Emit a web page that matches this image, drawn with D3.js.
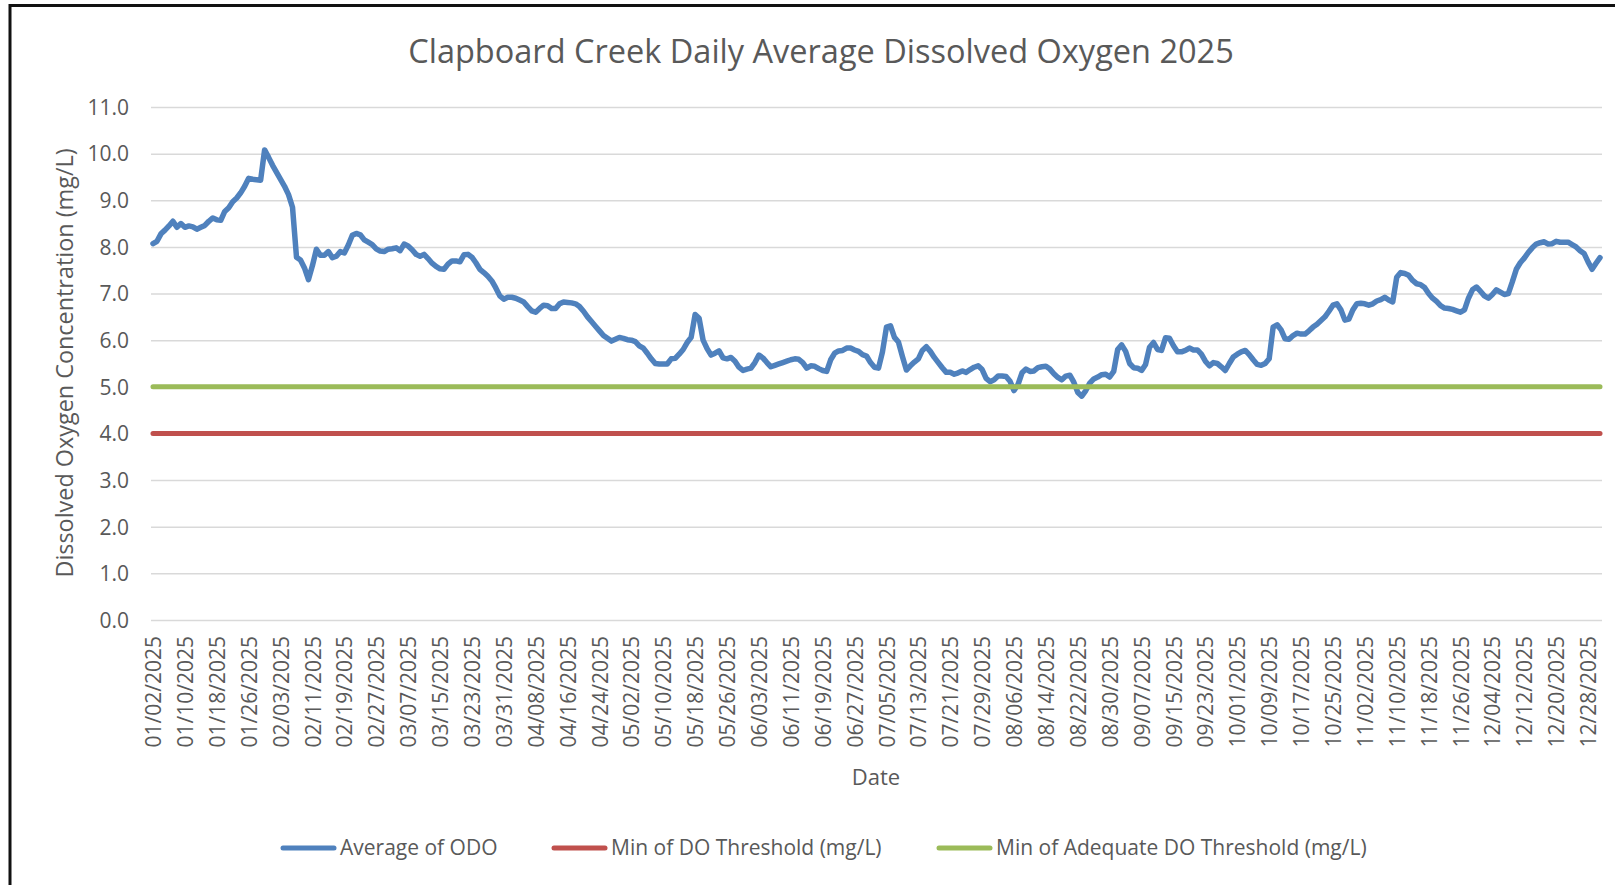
<!DOCTYPE html>
<html>
<head>
<meta charset="utf-8">
<script src="https://cdn.jsdelivr.net/npm/d3@7"></script>
<style>
  html, body { margin: 0; padding: 0; background: #ffffff; }
  svg { display: block; }
  text { font-family: "Open Sans", "Noto Sans", sans-serif; fill: #595959; }
</style>
</head>
<body>
<svg id="chart" width="1615" height="885"></svg>
<script>
// ---------------- DATA ----------------
const chartTitle = "Clapboard Creek Daily Average Dissolved Oxygen 2025";
const yAxisTitle = "Dissolved Oxygen Concentration (mg/L)";
const xAxisTitle = "Date";
const seriesNames = ["Average of ODO", "Min of DO Threshold (mg/L)", "Min of Adequate DO Threshold (mg/L)"];

// categories: every day from 01/02/2025 to 12/31/2025
const firstDay = new Date(2025, 0, 2);
const endDayExclusive = new Date(2026, 0, 1);
const categories = d3.timeDay.range(firstDay, endDayExclusive).map(d3.timeFormat("%m/%d/%Y"));

// daily average ODO (mg/L), one value per category
const odoValues = [
  8.07, 8.12, 8.28, 8.36, 8.45, 8.55, 8.42, 8.50, 8.42, 8.45,
  8.43, 8.38, 8.42, 8.46, 8.55, 8.62, 8.58, 8.57, 8.76, 8.84,
  8.97, 9.05, 9.16, 9.30, 9.47, 9.45, 9.44, 9.43, 10.08, 9.92,
  9.75, 9.60, 9.45, 9.30, 9.12, 8.85, 7.78, 7.72, 7.55, 7.30,
  7.60, 7.95, 7.82, 7.82, 7.90, 7.77, 7.80, 7.90, 7.87, 8.04,
  8.25, 8.29, 8.26, 8.15, 8.10, 8.05, 7.96, 7.91, 7.90, 7.95,
  7.96, 7.98, 7.92, 8.06, 8.02, 7.94, 7.84, 7.80, 7.84, 7.75,
  7.65, 7.58, 7.53, 7.52, 7.63, 7.70, 7.70, 7.68, 7.83, 7.84,
  7.78, 7.66, 7.52, 7.45, 7.37, 7.27, 7.12, 6.95, 6.88, 6.92,
  6.92, 6.90, 6.86, 6.82, 6.72, 6.63, 6.60, 6.68, 6.75, 6.74,
  6.68, 6.68, 6.78, 6.82, 6.81, 6.80, 6.78, 6.72, 6.62, 6.50,
  6.40, 6.30, 6.20, 6.10, 6.04, 5.98, 6.02, 6.06, 6.04, 6.01,
  6.00, 5.97, 5.88, 5.83, 5.72, 5.60, 5.50, 5.49, 5.49, 5.49,
  5.60, 5.61, 5.70, 5.80, 5.95, 6.06, 6.55, 6.47, 6.00, 5.82,
  5.68, 5.72, 5.77, 5.62, 5.60, 5.63, 5.55, 5.42, 5.35, 5.38,
  5.40, 5.52, 5.68, 5.62, 5.52, 5.43, 5.46, 5.49, 5.52, 5.55,
  5.58, 5.60, 5.59, 5.52, 5.40, 5.45, 5.44, 5.39, 5.35, 5.33,
  5.58, 5.72, 5.77, 5.78, 5.83, 5.83, 5.79, 5.76, 5.69, 5.66,
  5.52, 5.42, 5.40, 5.75, 6.28, 6.31, 6.06, 5.96, 5.65, 5.36,
  5.45, 5.53, 5.60, 5.78, 5.86, 5.76, 5.63, 5.52, 5.41, 5.31,
  5.31, 5.27, 5.30, 5.34, 5.31, 5.37, 5.42, 5.45, 5.37, 5.18,
  5.11, 5.15, 5.23, 5.23, 5.22, 5.12, 4.92, 5.05, 5.30, 5.38,
  5.33, 5.34, 5.41, 5.43, 5.44, 5.38, 5.28, 5.20, 5.15, 5.23,
  5.25, 5.10, 4.88, 4.80, 4.92, 5.08, 5.17, 5.21, 5.26, 5.27,
  5.21, 5.33, 5.80, 5.90, 5.76, 5.50, 5.41, 5.40, 5.35, 5.48,
  5.85, 5.95, 5.80, 5.78, 6.05, 6.04, 5.88, 5.75, 5.75, 5.78,
  5.83, 5.79, 5.79, 5.70, 5.55, 5.45, 5.52, 5.50, 5.43, 5.35,
  5.50, 5.64, 5.70, 5.75, 5.78, 5.69, 5.58, 5.48, 5.46, 5.50,
  5.60, 6.28, 6.33, 6.22, 6.03, 6.02, 6.10, 6.15, 6.13, 6.13,
  6.20, 6.28, 6.34, 6.42, 6.50, 6.62, 6.75, 6.78, 6.65, 6.43,
  6.45, 6.65, 6.78, 6.79, 6.78, 6.75, 6.78, 6.84, 6.87, 6.92,
  6.86, 6.82, 7.35, 7.45, 7.43, 7.39, 7.28, 7.21, 7.19, 7.13,
  7.00, 6.90, 6.83, 6.74, 6.69, 6.68, 6.66, 6.63, 6.60, 6.65,
  6.90, 7.08, 7.14, 7.05, 6.95, 6.90, 6.98, 7.08, 7.03, 6.98,
  7.00, 7.25, 7.52, 7.66, 7.76, 7.88, 7.98, 8.06, 8.09, 8.11,
  8.06, 8.07, 8.12, 8.10, 8.10, 8.10, 8.05, 8.00, 7.92, 7.86,
  7.68, 7.52, 7.65, 7.77
];

// threshold series (constant every day)
const minDOThreshold = 4.0;
const minAdequateDOThreshold = 5.0;

// axis ticks
const yTicks = [0, 1, 2, 3, 4, 5, 6, 7, 8, 9, 10, 11];
const xTickLabels = [
  "01/02/2025","01/10/2025","01/18/2025","01/26/2025","02/03/2025","02/11/2025",
  "02/19/2025","02/27/2025","03/07/2025","03/15/2025","03/23/2025","03/31/2025",
  "04/08/2025","04/16/2025","04/24/2025","05/02/2025","05/10/2025","05/18/2025",
  "05/26/2025","06/03/2025","06/11/2025","06/19/2025","06/27/2025","07/05/2025",
  "07/13/2025","07/21/2025","07/29/2025","08/06/2025","08/14/2025","08/22/2025",
  "08/30/2025","09/07/2025","09/15/2025","09/23/2025","10/01/2025","10/09/2025",
  "10/17/2025","10/25/2025","11/02/2025","11/10/2025","11/18/2025","11/26/2025",
  "12/04/2025","12/12/2025","12/20/2025","12/28/2025"
];

// ---------------- LAYOUT / STYLE ----------------
const colors = { odo: "#4F81BD", red: "#C0504D", green: "#9BBB59", grid: "#D9D9D9", text: "#595959" };
const plot = { left: 151, right: 1602, top: 107, bottom: 620 };

const svg = d3.select("#chart");

// chart border (only left/top visible in the cropped image)
svg.append("rect")
  .attr("x", 10).attr("y", 5.5)
  .attr("width", 1700).attr("height", 1000)
  .attr("fill", "none").attr("stroke", "#111").attr("stroke-width", 3);

const x = d3.scalePoint().domain(categories).range([plot.left, plot.right]).padding(0.5);
const y = d3.scaleLinear().domain([0, 11]).range([plot.bottom, plot.top]);

// gridlines
svg.append("g")
  .attr("transform", `translate(${plot.left},0)`)
  .call(d3.axisLeft(y).tickValues(yTicks).tickSize(-(plot.right - plot.left)).tickFormat(""))
  .call(g => g.select(".domain").remove())
  .call(g => g.selectAll("line").attr("stroke", colors.grid).attr("stroke-width", 1.5));

// y tick labels
svg.append("g")
  .attr("transform", `translate(${plot.left - 22},0)`)
  .call(d3.axisLeft(y).tickValues(yTicks).tickSize(0).tickFormat(d3.format(".1f")))
  .call(g => g.select(".domain").remove())
  .call(g => g.selectAll("text")
    .attr("x", 0).attr("dy", "0.35em")
    .style("font-family", '"Open Sans", sans-serif')
    .style("font-size", "21px").attr("fill", colors.text));

// x tick labels
svg.append("g")
  .attr("transform", `translate(0,${plot.bottom})`)
  .call(d3.axisBottom(x).tickValues(xTickLabels).tickSize(0))
  .call(g => g.select(".domain").remove())
  .call(g => g.selectAll("text")
    .attr("transform", "rotate(-90)")
    .attr("x", -16).attr("y", 0).attr("dy", "0.36em")
    .attr("text-anchor", "end")
    .style("font-family", '"Open Sans", sans-serif')
    .style("font-size", "21px").attr("fill", colors.text));

// series lines
const line = d3.line().x((d, i) => x(categories[i])).y(d => y(d));

svg.append("path")
  .datum(odoValues)
  .attr("d", line)
  .attr("fill", "none").attr("stroke", colors.odo).attr("stroke-width", 5.5)
  .attr("stroke-linejoin", "round").attr("stroke-linecap", "round");

svg.append("path")
  .datum(categories.map(() => minDOThreshold))
  .attr("d", line)
  .attr("fill", "none").attr("stroke", colors.red).attr("stroke-width", 5)
  .attr("stroke-linecap", "round");

svg.append("path")
  .datum(categories.map(() => minAdequateDOThreshold))
  .attr("d", line)
  .attr("fill", "none").attr("stroke", colors.green).attr("stroke-width", 5)
  .attr("stroke-linecap", "round");

// title
svg.append("text")
  .attr("x", 821).attr("y", 63)
  .attr("text-anchor", "middle")
  .style("font-size", "32.5px")
  .text(chartTitle);

// y axis title
svg.append("text")
  .attr("transform", `translate(73,363) rotate(-90)`)
  .attr("text-anchor", "middle")
  .style("font-size", "23.4px")
  .text(yAxisTitle);

// x axis title
svg.append("text")
  .attr("x", 876).attr("y", 785)
  .attr("text-anchor", "middle")
  .style("font-size", "22px")
  .text(xAxisTitle);

// legend
const legendItems = [
  { name: seriesNames[0], color: colors.odo, x: 281 },
  { name: seriesNames[1], color: colors.red, x: 552 },
  { name: seriesNames[2], color: colors.green, x: 937 }
];
const legendY = 848;
const lg = svg.append("g");
legendItems.forEach(it => {
  lg.append("line")
    .attr("x1", it.x + 2).attr("x2", it.x + 53)
    .attr("y1", legendY).attr("y2", legendY)
    .attr("stroke", it.color).attr("stroke-width", 5).attr("stroke-linecap", "round");
  lg.append("text")
    .attr("x", it.x + 59).attr("y", legendY).attr("dy", "0.35em")
    .style("font-size", "21px")
    .text(it.name);
});
</script>
</body>
</html>
